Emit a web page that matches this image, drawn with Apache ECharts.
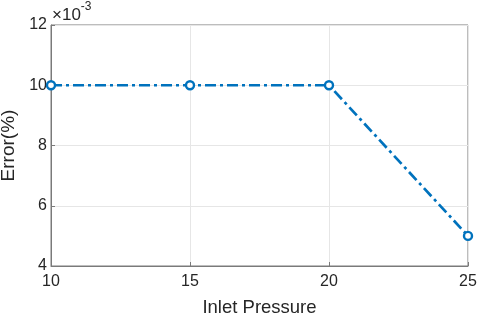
<!DOCTYPE html>
<html><head><meta charset="utf-8">
<script src="https://cdn.jsdelivr.net/npm/echarts@6/dist/echarts.min.js"></script>
<style>html,body{margin:0;padding:0;background:#fff}#c{width:480px;height:318px}</style>
</head><body><div id="c"></div>
<script>
var pressures = [10, 15, 20, 25];
var errors = [10, 10, 10, 5]; // x 10^-3
var xTicks = [10, 15, 20, 25];
var yTicks = [4, 6, 8, 10, 12];

var chart = echarts.init(document.getElementById('c'), null, {renderer: 'canvas'});
var font = 'Liberation Sans, Arial, Helvetica, sans-serif';
var axisCol = '#262626';
var boxCol = '#7a7a7a';
chart.setOption({
  animation: false,
  grid: {left: 51, right: 12, top: 25, bottom: 52, containLabel: false, outerBoundsMode: 'none',
         show: true, borderColor: boxCol, borderWidth: 1, backgroundColor: '#fff'},
  xAxis: {
    type: 'value', min: 10, max: 25, interval: 5,
    name: 'Inlet Pressure', nameLocation: 'middle', nameGap: 32,
    nameTextStyle: {fontFamily: font, fontSize: 18.5, color: axisCol},
    axisLine: {show: true, lineStyle: {color: boxCol, width: 1}},
    axisTick: {show: true, inside: true, length: 4, lineStyle: {color: boxCol}},
    axisLabel: {fontFamily: font, fontSize: 16, color: axisCol, margin: 8},
    splitLine: {show: true, lineStyle: {color: '#e6e6e6', width: 1}}
  },
  yAxis: {
    type: 'value', min: 4, max: 12, interval: 2,
    name: 'Error(%)', nameLocation: 'middle', nameGap: 28,
    nameTextStyle: {fontFamily: font, fontSize: 19, color: axisCol},
    axisLine: {show: true, lineStyle: {color: boxCol, width: 1}},
    axisTick: {show: true, inside: true, length: 4, lineStyle: {color: boxCol}},
    axisLabel: {fontFamily: font, fontSize: 16, color: axisCol, margin: 4},
    splitLine: {show: true, lineStyle: {color: '#e6e6e6', width: 1}}
  },
  graphic: [{
    type: 'text', left: 52, top: 1,
    style: {
      text: '{a|×10}{b|-3}',
      rich: {
        a: {fontFamily: font, fontSize: 17, fill: axisCol, padding: [6,0,0,0]},
        b: {fontFamily: font, fontSize: 12, fill: axisCol, verticalAlign: 'top', padding: [0,0,0,0]}
      }
    }
  }],
  series: [{
    type: 'line',
    data: pressures.map(function(p, i){ return [p, errors[i]]; }),
    symbol: 'circle', symbolSize: 8, showSymbol: true,
    lineStyle: {color: '#0072BD', width: 2.7, type: [11, 4, 3, 4]},
    itemStyle: {color: '#fff', borderColor: '#0072BD', borderWidth: 2.4},
    z: 5, clip: false
  }]
});
</script></body></html>
